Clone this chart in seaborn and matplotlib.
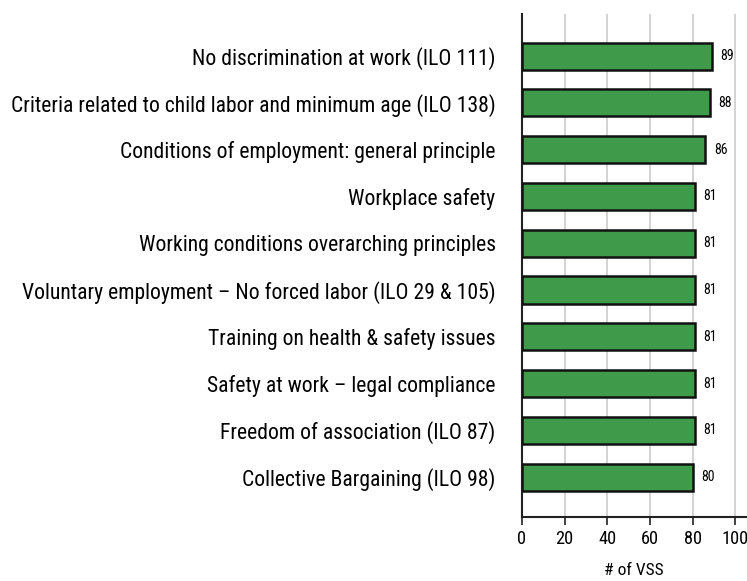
import matplotlib
matplotlib.use("Agg")
import matplotlib.pyplot as plt
import seaborn as sns
import pandas as pd

categories = [
    "No discrimination at work (ILO 111)",
    "Criteria related to child labor and minimum age (ILO 138)",
    "Conditions of employment: general principle",
    "Workplace safety",
    "Working conditions overarching principles",
    "Voluntary employment – No forced labor (ILO 29 & 105)",
    "Training on health & safety issues",
    "Safety at work – legal compliance",
    "Freedom of association (ILO 87)",
    "Collective Bargaining (ILO 98)",
]
values = [89, 88, 86, 81, 81, 81, 81, 81, 81, 80]
xticks = [0, 20, 40, 60, 80, 100]

sns.set_theme(style="white")
plt.rcParams["font.family"] = ["Roboto Condensed", "DejaVu Sans"]
plt.rcParams["text.color"] = "black"
plt.rcParams["xtick.color"] = "black"
plt.rcParams["ytick.color"] = "black"
plt.rcParams["axes.labelcolor"] = "black"

df = pd.DataFrame({"cat": categories, "val": values})
fig = plt.figure(figsize=(7.47, 5.81), dpi=100)
ax = fig.add_axes([522/747, 1-517/581, (746-522)/747, (517-14)/581])
sns.barplot(data=df, y="cat", x="val", color="#3f9a4a", edgecolor="#111111",
            linewidth=1.8, width=0.58, saturation=1, ax=ax, zorder=3)
ax.set_xlim(0, 105)
ax.set_ylim(9.85, -0.9)
ax.set_xticks(xticks)
ax.set_xticklabels([str(t) for t in xticks], fontsize=13.2)
ax.tick_params(axis="x", length=6, width=1.2, color="#222222", pad=3, direction="out", bottom=True)
ax.tick_params(axis="y", length=0, labelsize=15.6, pad=19)
ax.grid(axis="x", color="#cccccc", linewidth=1.2, zorder=0)
for s in ["top", "right"]:
    ax.spines[s].set_visible(False)
for s in ["left", "bottom"]:
    ax.spines[s].set_color("#222222")
    ax.spines[s].set_linewidth(1.5)
ax.set_ylabel("")
ax.set_xlabel("# of VSS", fontsize=12.5, labelpad=11)
for i, v in enumerate(values):
    ax.text(v + 4, i, str(v), va="center", ha="left", fontsize=10)
fig.savefig("out.png", dpi=100)
